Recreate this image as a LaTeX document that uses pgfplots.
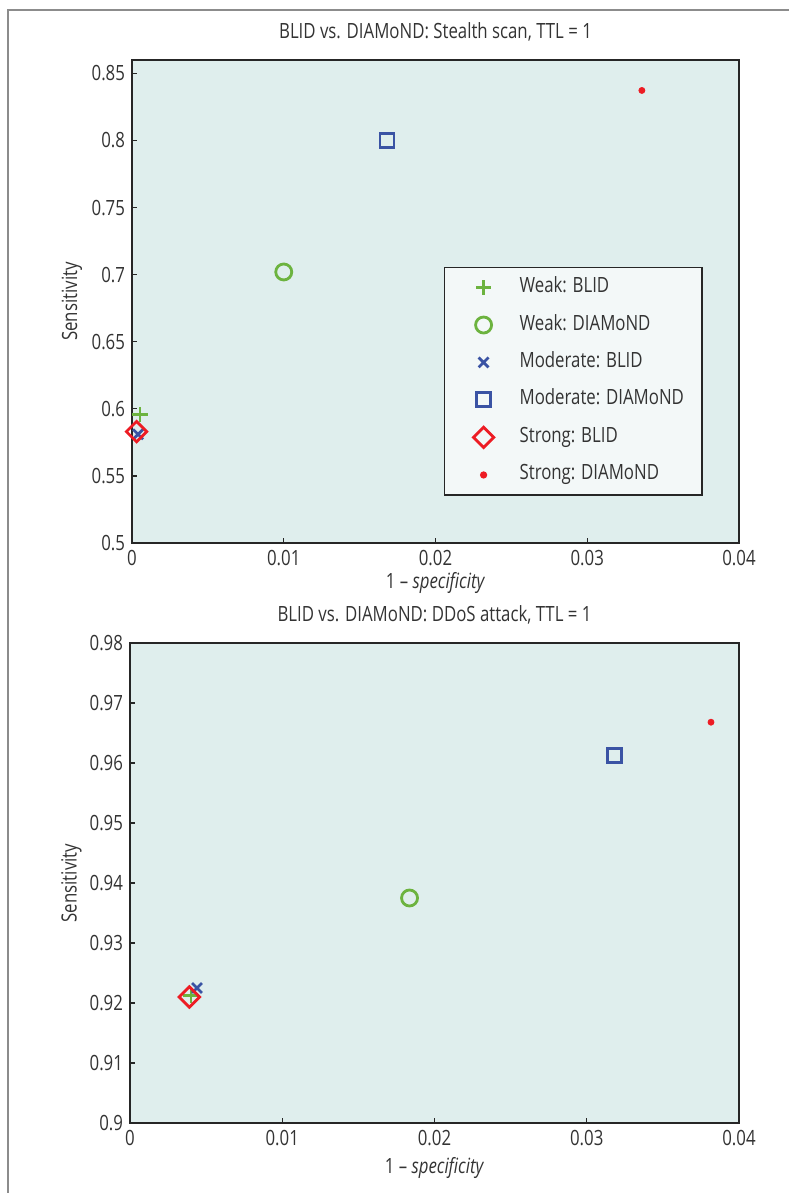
\documentclass[border=0pt]{standalone}
\usepackage{fontspec}
\setmainfont{Open Sans}[FakeStretch=0.8]
\usepackage{pgfplots}
\pgfplotsset{compat=1.18}
\definecolor{bgc}{HTML}{DFEEED}
\definecolor{legbg}{HTML}{F3F8F8}
\definecolor{cgreen}{HTML}{6CB33F}
\definecolor{cblue}{HTML}{3A53A4}
\definecolor{cred}{HTML}{ED1C24}
\definecolor{txt}{HTML}{333333}
\pgfplotsset{
  myax/.style={
    scale only axis,
    axis background/.style={fill=bgc},
    axis line style={black!85, line width=0.9pt},
    tick align=inside, xtick pos=bottom, ytick pos=left,
    major tick length=2.5pt,
    every tick/.style={black!85, line width=0.6pt},
    xmin=0, xmax=0.04, xtick={0,0.01,0.02,0.03,0.04},
    scaled x ticks=false, scaled y ticks=false,
    /pgf/number format/assume math mode=true,
    xticklabel style={/pgf/number format/fixed, /pgf/number format/precision=2},
    yticklabel style={/pgf/number format/fixed, /pgf/number format/precision=3},
    tick label style={font=\fontsize{10.5}{12}\selectfont, text=txt},
    label style={font=\fontsize{10.5}{12}\selectfont, text=txt},
    title style={font=\fontsize{10.5}{12}\selectfont, text=txt},
    xlabel={1 \textendash\ \textit{specificity}},
    ylabel={Sensitivity},
  },
  sWB/.style={only marks, mark=+, mark size=3.8pt, line width=1.4pt, color=cgreen},
  sWD/.style={only marks, mark=o, mark size=4pt, line width=1.4pt, color=cgreen},
  sMB/.style={only marks, mark=x, mark size=3.5pt, line width=1.4pt, color=cblue},
  sMD/.style={only marks, mark=square, mark size=3.5pt, line width=1.4pt, color=cblue},
  sSB/.style={only marks, mark=square, mark size=3.6pt, mark options={rotate=45}, line width=1.4pt, color=cred},
  sSD/.style={only marks, mark=*, mark size=1.5pt, color=cred},
}
\begin{document}
\begin{tikzpicture}[font=\fontsize{10.5}{12}\selectfont]
\useasboundingbox (0,0) rectangle (394.5pt,596.5pt);
\draw[black!45, line width=1pt] (4pt,0) -- (4pt,591.5pt) -- (394.5pt,591.5pt);

\begin{axis}[myax,
  at={(66pt,325pt)}, anchor=south west,
  width=303.5pt, height=241.5pt,
  ymin=0.5, ymax=0.86, ytick={0.5,0.55,0.6,0.65,0.7,0.75,0.8,0.85},
  title={BLID vs. DIAMoND: Stealth scan, TTL = 1},
  xlabel style={at={(axis description cs:0.5,-0.083)}, anchor=center},
  ylabel style={at={(axis description cs:-0.099,0.5)}, anchor=center},
  legend style={at={(rel axis cs:0.514,0.5714)}, anchor=north west,
    draw=black!85, line width=0.6pt, fill=legbg, text=txt,
    font=\fontsize{10.5}{12}\selectfont,
    inner xsep=7pt, inner ysep=5pt, row sep=8.7pt,
    nodes={inner ysep=0pt, text height=7.5pt, text depth=2.5pt},
    /tikz/every even column/.append style={column sep=0pt}},
  legend cell align=left,
  legend image code/.code={\path[draw=none,fill=none] (0pt,0pt) -- (28.5pt,0pt);
    \path[#1] plot[only marks] coordinates {(12.5pt,0pt)};},
]
\addplot[sWB] coordinates {(0.00053,0.5955)};
\addplot[sWD] coordinates {(0.0100,0.702)};
\addplot[sMB] coordinates {(0.0004,0.581)};
\addplot[sMD] coordinates {(0.0168,0.800)};
\addplot[sSB] coordinates {(0.0003,0.583)};
\addplot[sSD] coordinates {(0.0336,0.8373)};
\legend{Weak: BLID, Weak: DIAMoND, Moderate: BLID, Moderate: DIAMoND, Strong: BLID, Strong: DIAMoND}
\end{axis}

\begin{axis}[myax,
  at={(65pt,35pt)}, anchor=south west,
  width=304.5pt, height=240pt,
  ymin=0.9, ymax=0.98, ytick={0.9,0.91,0.92,0.93,0.94,0.95,0.96,0.97,0.98},
  title={BLID vs. DIAMoND: DDoS attack, TTL = 1},
  xlabel style={at={(axis description cs:0.5,-0.094)}, anchor=center},
  ylabel style={at={(axis description cs:-0.096,0.5)}, anchor=center},
]
\addplot[sWB] coordinates {(0.0040,0.9213)};
\addplot[sWD] coordinates {(0.01836,0.9375)};
\addplot[sMB] coordinates {(0.0044,0.9225)};
\addplot[sMD] coordinates {(0.0318,0.9612)};
\addplot[sSB] coordinates {(0.0039,0.9210)};
\addplot[sSD] coordinates {(0.03816,0.9668)};
\end{axis}
\end{tikzpicture}
\end{document}
